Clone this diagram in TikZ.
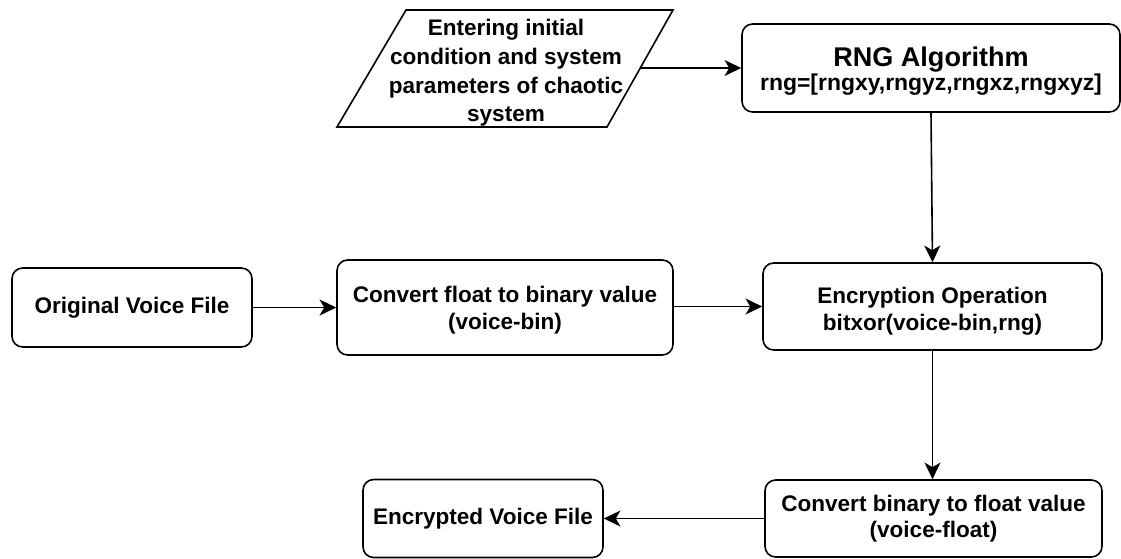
\documentclass[tikz,border=0pt]{standalone}
\usepackage{fontspec}
\setmainfont{Liberation Sans}
\usetikzlibrary{arrows.meta}
\begin{document}
\begin{tikzpicture}[x=0.75pt,y=-0.75pt,
  txt/.style={align=center,inner sep=0pt,font=\fontsize{16.9}{20}\selectfont\bfseries},
  box/.style={txt,draw,rounded corners=8pt,line width=1.2pt},
  arr/.style={-{Stealth[length=12.5pt,width=12pt,inset=3.5pt]},line width=1.2pt}]
\useasboundingbox (0,0) rectangle (1121,558);
% input parallelogram
\draw[line width=1.2pt] (406,10) -- (673,10) -- (607,127) -- (337,127) -- cycle;
\node[txt,font=\fontsize{16.9}{21.5}\selectfont\bfseries] (inp) at (506,73)
  {Entering initial\\condition and system\\parameters of chaotic\\system};
\coordinate (inpR) at (641,68);
% boxes
\node[box,minimum width=283.5pt,minimum height=66pt] (rng) at (931,68)
  {\rule{0pt}{19.5pt}{\fontsize{20.3}{24}\selectfont RNG Algorithm}\\[-2.5pt]{\fontsize{17.2}{20}\selectfont rng=[rngxy,rngyz,rngxz,rngxyz]}};
\node[box,minimum width=180pt,minimum height=59.25pt] (orig) at (132,307.5) {Original Voice File};
\node[box,minimum width=252pt,minimum height=71.25pt] (conv) at (505,307.5)
  {\rule{0pt}{16pt}Convert float to binary value\\(voice-bin)};
\node[box,minimum width=254.25pt,minimum height=65.25pt] (enc) at (932.5,306.5)
  {\rule{0pt}{19pt}Encryption Operation\\bitxor(voice-bin,rng)};
\node[box,minimum width=252.75pt,minimum height=57.75pt] (cbin) at (933.5,518.5)
  {Convert binary to float value\\(voice-float)};
\node[box,minimum width=180pt,minimum height=58.5pt] (encr) at (483,518.5) {Encrypted Voice File};
% connectors
\draw[arr] (inpR) -- (rng.west);
\draw[arr] (rng.south) -- (enc.north);
\draw[arr] (orig.east) -- (conv.west |- orig.east);
\draw[arr] (conv.east |- enc.west) -- (enc.west);
\draw[arr] (enc.south) -- (cbin.north -| enc.south);
\draw[arr] (cbin.west) -- (encr.east);
\end{tikzpicture}
\end{document}
